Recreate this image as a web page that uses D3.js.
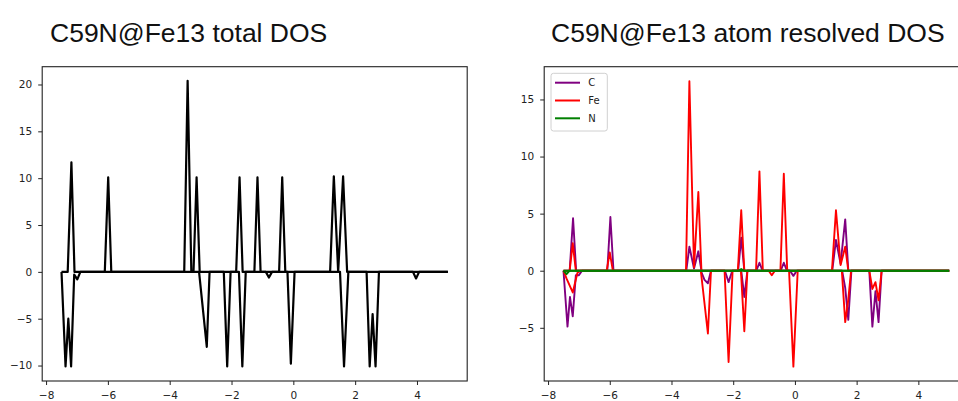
<!DOCTYPE html>
<html>
<head>
<meta charset="utf-8">
<script src="https://cdn.jsdelivr.net/npm/d3@7"></script>
<style>
  body { margin: 0; background: #fff; }
  svg { display: block; }
</style>
</head>
<body>
<svg id="chart" width="958" height="401"></svg>
<script>
// ---- Total DOS (spin up / spin down), energy in eV ----
const totalUpE = [-7.5, -7.3, -7.18, -7.08, -6.1, -5.99, -5.89, -3.53, -3.42, -3.3, -3.23, -3.13, -3.03,
                  -1.85, -1.74, -1.64, -1.26, -1.16, -1.06, -0.46, -0.36, -0.26, 1.19, 1.31, 1.45, 1.61, 1.74, 5.0];
const totalUpV = [0, 0, 11.7, 0, 0, 10.1, 0, 0, 20.4, 0, 0, 10.1, 0,
                  0, 10.1, 0, 0, 10.1, 0, 0, 10.1, 0, 0, 10.2, 0, 10.2, 0, 0];

const totalDnE = [-7.5, -7.37, -7.28, -7.19, -7.09, -6.99, -6.89, -3.05, -2.8, -2.71, -2.25, -2.14, -2.03,
                  -1.76, -1.65, -1.54, -0.89, -0.79, -0.69, -0.19, -0.08, 0.04, 1.51, 1.64, 1.78,
                  2.37, 2.47, 2.565, 2.66, 2.77, 3.87, 3.97, 4.07, 5.0];
const totalDnV = [0, -10.1, -5.0, -10.1, -0.3, -0.8, 0, 0, -8.0, 0, 0, -10.1, 0,
                  0, -10.1, 0, 0, -0.6, 0, 0, -9.8, 0, 0, -10.1, 0,
                  0, -10.1, -4.5, -10.1, 0, 0, -0.7, 0, 0];

// ---- Atom resolved DOS ----
const cUpE = [-7.5, -7.3, -7.19, -7.09, -6.08, -5.98, -5.88, -3.52, -3.42, -3.27, -3.13, -3.03,
              -1.84, -1.74, -1.64, -1.25, -1.15, -1.05, -0.46, -0.36, -0.26, 1.21, 1.33, 1.48, 1.63, 1.73, 5.0];
const cUpV = [0, 0, 4.6, 0, 0, 4.7, 0, 0, 2.1, 0.2, 1.7, 0,
              0, 2.9, 0, 0, 0.7, 0, 0, 0.7, 0, 0, 2.7, 0.6, 4.5, 0, 0];

const cDnE = [-7.5, -7.37, -7.29, -7.2, -7.1, -7.0, -6.9, -3.05, -2.93, -2.82, -2.72, -2.27, -2.15, -2.03,
              -1.74, -1.64, -1.54, -0.16, -0.05, 0.06, 1.53, 1.63, 1.73, 1.83, 2.41, 2.51, 2.61, 2.71, 2.81, 5.0];
const cDnV = [0, -4.9, -2.3, -4.0, -0.4, -0.4, 0, 0, -0.8, -1.1, 0, 0, -1.0, 0,
              0, -2.3, 0, 0, -0.45, 0, 0, -1.5, -4.3, 0, 0, -4.9, -1.8, -4.5, 0, 0];

const feUpE = [-7.5, -7.3, -7.2, -7.1, -6.1, -6.0, -5.9, -3.53, -3.42, -3.27, -3.13, -3.03,
               -1.85, -1.74, -1.64, -1.26, -1.15, -1.04, -0.47, -0.36, -0.25, 1.2, 1.33, 1.48, 1.63, 1.73, 5.0];
const feUpV = [0, 0, 2.4, 0, 0, 1.6, 0, 0, 16.6, 0.3, 6.9, 0,
               0, 5.3, 0, 0, 8.7, 0, 0, 8.5, 0, 0, 5.3, 0.5, 2.1, 0, 0];

const feDnE = [-7.5, -7.4, -7.2, -7.05, -6.95, -3.05, -2.82, -2.72, -2.28, -2.15, -2.02,
               -1.75, -1.64, -1.54, -0.85, -0.75, -0.65, -0.19, -0.05, 0.09,
               1.52, 1.63, 1.73, 1.82, 2.41, 2.51, 2.61, 2.71, 2.81, 5.0];
const feDnV = [0, -0.7, -1.9, -0.2, 0, 0, -5.5, 0, 0, -8.0, 0,
               0, -5.3, 0, 0, -0.4, 0, 0, -8.4, 0,
               0, -4.5, -2.5, 0, 0, -1.6, -1.0, -2.6, 0, 0];

const nUpE = [-7.5, -1.84, -1.74, -1.64, 5.0];
const nUpV = [0, 0, 0.15, 0, 0];
const nDnE = [-7.5, -7.4, -7.3, 5.0];
const nDnV = [0, -0.3, 0, 0];

const xTicks = [-8, -6, -4, -2, 0, 2, 4];
const yTicksTotal = [-10, -5, 0, 5, 10, 15, 20];
const yTicksAtom = [-5, 0, 5, 10, 15];

const svg = d3.select("#chart");
const tickFont = "DejaVu Sans, sans-serif";
const fmt = d => (d < 0 ? "\u2212" + Math.abs(d) : String(d));

function zip(es, vs) { return es.map((e, i) => [e, vs[i]]); }

function panel(opt) {
  const x = d3.scaleLinear().domain([-8.125, 5.625]).range([opt.left, opt.right]);
  const y = d3.scaleLinear().domain(opt.yDomain).range([381, 66.7]);
  const g = svg.append("g");

  const clipId = "clip" + opt.id;
  svg.append("clipPath").attr("id", clipId)
    .append("rect").attr("x", opt.left).attr("y", 66.7)
    .attr("width", opt.right - opt.left).attr("height", 381 - 66.7);

  const line = d3.line().x(d => x(d[0])).y(d => y(d[1]));
  const plot = g.append("g").attr("clip-path", `url(#${clipId})`);
  opt.series.forEach(s => {
    plot.append("path")
      .datum(zip(s.e, s.v))
      .attr("d", line)
      .attr("fill", "none")
      .attr("stroke", s.color)
      .attr("stroke-width", opt.lw)
      .attr("stroke-linejoin", "round");
  });

  // axes
  const ax = g.append("g").attr("transform", "translate(0,381)")
    .call(d3.axisBottom(x).tickValues(xTicks).tickSize(4).tickPadding(7).tickFormat(fmt));
  const ay = g.append("g").attr("transform", `translate(${opt.left},0)`)
    .call(d3.axisLeft(y).tickValues(opt.yTicks).tickSize(4).tickPadding(6).tickFormat(fmt));
  [ax, ay].forEach(a => {
    a.select(".domain").remove();
    a.selectAll("line").attr("stroke", "#222").attr("stroke-width", 1);
    a.selectAll("text").attr("fill", "#222").style("font-family", tickFont).style("font-size", "10.5px");
  });

  // frame
  g.append("rect")
    .attr("x", opt.left).attr("y", 66.7)
    .attr("width", opt.right - opt.left).attr("height", 381 - 66.7)
    .attr("fill", "none").attr("stroke", "#222").attr("stroke-width", 1.1);

  // title
  svg.append("text")
    .attr("x", opt.titleX).attr("y", 42)
    .style("font-family", "Liberation Sans, Arial, sans-serif")
    .style("font-size", "26.5px")
    .attr("fill", "#111")
    .text(opt.title);

  return { x, y, g };
}

panel({
  id: "a", left: 42.2, right: 467.2, yDomain: [-11.65, 21.9], yTicks: yTicksTotal, lw: 2.2,
  titleX: 50, title: "C59N@Fe13 total DOS",
  series: [
    { e: totalUpE, v: totalUpV, color: "#000" },
    { e: totalDnE, v: totalDnV, color: "#000" }
  ]
});

const atomSeries = [
  { name: "C", color: "#800080" },
  { name: "Fe", color: "#ff0000" },
  { name: "N", color: "#008000" }
];

panel({
  id: "b", left: 544.2, right: 968.5, yDomain: [-9.66, 17.87], yTicks: yTicksAtom, lw: 1.9,
  titleX: 551, title: "C59N@Fe13 atom resolved DOS",
  series: [
    { e: cUpE, v: cUpV, color: atomSeries[0].color },
    { e: cDnE, v: cDnV, color: atomSeries[0].color },
    { e: feUpE, v: feUpV, color: atomSeries[1].color },
    { e: feDnE, v: feDnV, color: atomSeries[1].color },
    { e: nUpE, v: nUpV, color: atomSeries[2].color },
    { e: nDnE, v: nDnV, color: atomSeries[2].color }
  ]
});

// legend
const lg = svg.append("g").attr("transform", "translate(551,73.3)");
lg.append("rect").attr("width", 56.3).attr("height", 57.7).attr("rx", 2.5)
  .attr("fill", "#fff").attr("fill-opacity", 0.8).attr("stroke", "#d0d0d0").attr("stroke-width", 1);
atomSeries.forEach((s, i) => {
  const yy = 9.4 + i * 17.8;
  lg.append("line").attr("x1", 4).attr("x2", 29).attr("y1", yy).attr("y2", yy)
    .attr("stroke", s.color).attr("stroke-width", 2);
  lg.append("text").attr("x", 37.3).attr("y", yy).attr("dy", "0.35em")
    .style("font-family", tickFont).style("font-size", "10px").attr("fill", "#222")
    .text(s.name);
});
</script>
</body>
</html>
